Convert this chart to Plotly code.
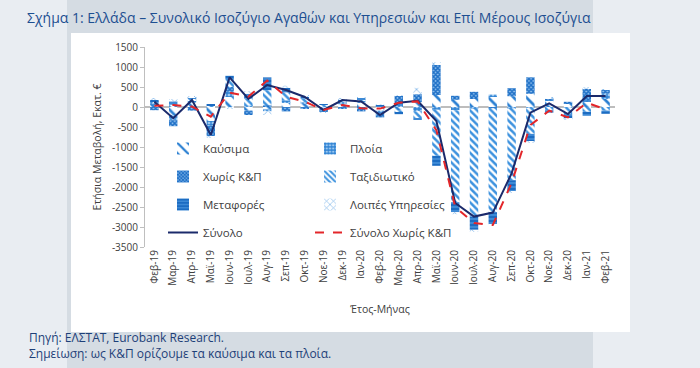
import plotly.graph_objects as go

months = ["Φεβ-19", "Μαρ-19", "Απρ-19", "Μαϊ-19", "Ιουν-19", "Ιουλ-19", "Αυγ-19", "Σεπ-19",
          "Οκτ-19", "Νοε-19", "Δεκ-19", "Ιαν-20", "Φεβ-20", "Μαρ-20", "Απρ-20", "Μαϊ-20",
          "Ιουν-20", "Ιουλ-20", "Αυγ-20", "Σεπ-20", "Οκτ-20", "Νοε-20", "Δεκ-20", "Ιαν-21", "Φεβ-21"]

kausima = [60, -200, 110, -350, 250, -90, -60, 120, 80, -20, 70, 100, -90, -80, 120, 300,
           180, 200, 250, 270, 330, 160, 90, 140, 200]
ploia = [40, -130, 55, -110, 130, 30, -50, 47, 37, 20, 55, 73, -70, 80, -105, -70,
         -80, -40, 60, -30, -22, 24, -7, 27, 133]
xoris_kp = [-80, -150, -90, -280, 120, -110, 40, -110, -40, -110, -40, -110, -100, 200, 200, 750,
            100, 180, -30, 200, 412, 30, 40, 300, 100]
taxidiotiko = [30, 60, 40, 40, 200, 180, 380, 200, 90, 30, 30, 20, 20, -60, -170, -1150,
               -2300, -2700, -2600, -1800, -650, -80, -170, -120, -90]
metafores = [45, 80, 30, 20, 80, 120, 320, 110, 50, 25, 40, 40, 30, -40, -50, -250,
             -250, -330, -300, -280, -200, -60, -120, -100, -80]
loipes = [35, 60, 30, -20, -40, 70, -80, 58, 33, -20, 20, 17, 10, 8, 160, 70,
          -50, -50, -20, -20, -12, 18, -8, 28, 12]

synolo = [130, -280, 175, -700, 740, 200, 550, 425, 250, -75, 175, 140, -200, 108, 155, -350,
          -2400, -2740, -2640, -1660, -142, 92, -175, 275, 275]
synolo_xoris_kp = [30, 50, 10, -240, 360, 260, 660, 258, 133, -75, 50, -33, -40, 108, 140, -580,
                   -2500, -2900, -2950, -1900, -450, -92, -258, 108, -58]

y_ticks = [1500, 1000, 500, 0, -500, -1000, -1500, -2000, -2500, -3000, -3500]
y_tick_text = ["1500", "1000", "500", "0", "-500", "-1000", "-1500", "-2000", "-2500", "-3000", "-3500"]

BLUE = "#2a7fd2"
FONT = "Open Sans"

fig = go.Figure()

def bar(name, vals, legend, group, shape, fg, bg, size, solidity, color=None):
    fig.add_trace(go.Bar(
        x=months, y=vals, name=name, legend=legend, legendgroup=group,
        marker=dict(color=color or fg, line=dict(width=0),
                    pattern=dict(shape=shape, fgcolor=fg, bgcolor=bg, size=size,
                                 solidity=solidity, fillmode="replace")),
    ))

bar("Καύσιμα", kausima, "legend", "a", "\\", BLUE, "white", 9, 0.3)
bar("Πλοία", ploia, "legend2", "b", "+", BLUE, "#9cc8f0", 4, 0.55)
bar("Χωρίς Κ&Π", xoris_kp, "legend", "c", "x", "#1e6fc6", "#8fc0ee", 3, 0.7)
bar("Ταξιδιωτικό", taxidiotiko, "legend2", "d", "\\", "#3d92de", "white", 5, 0.5)
bar("Μεταφορές", metafores, "legend", "e", "-", "#1c6cc2", "#5ea6e8", 4, 0.75)
bar("Λοιπές Υπηρεσίες", loipes, "legend2", "f", "x", "#7fb6ea", "white", 6, 0.25)

fig.add_trace(go.Scatter(x=months, y=synolo, name="Σύνολο", mode="lines", legend="legend",
                         legendgroup="g", line=dict(color="#1b2a6b", width=2)))
fig.add_trace(go.Scatter(x=months, y=synolo_xoris_kp, name="Σύνολο Χωρίς Κ&Π", mode="lines",
                         legend="legend2", legendgroup="h",
                         line=dict(color="#e3262a", width=2, dash="dash")))

# plot area: x 145..615 px, y 47..247 px
L, R, T, B = 145, 85, 47, 121
W, H = 700 - L - R, 368 - T - B
px = lambda v: (v - L) / W
py = lambda v: (368 - B - v) / H

shapes = [
    dict(type="rect", xref="paper", yref="paper", x0=px(67), x1=px(593), y0=py(368), y1=py(0),
         fillcolor="#d5dce3", line=dict(width=0), layer="below"),
    dict(type="rect", xref="paper", yref="paper", x0=px(71), x1=px(630), y0=py(332), y1=py(33),
         fillcolor="white", line=dict(width=0), layer="below"),
]

leg_common = dict(bgcolor="rgba(0,0,0,0)", borderwidth=0, tracegroupgap=9,
                  font=dict(family=FONT, size=11.5, color="#404040"),
                  xanchor="left", yanchor="top", itemwidth=30)

fig.update_layout(
    width=700, height=368,
    margin=dict(l=L, r=R, t=T, b=B),
    paper_bgcolor="#e9edf2", plot_bgcolor="rgba(0,0,0,0)",
    barmode="relative", bargap=0.55,
    shapes=shapes,
    font=dict(family=FONT, color="#404040"),
    title=dict(text="Σχήμα 1: Ελλάδα – Συνολικό Ισοζύγιο Αγαθών και Υπηρεσιών και Επί Μέρους Ισοζύγια",
               x=27 / 700, xanchor="left", y=1 - 18 / 368, yanchor="middle",
               font=dict(family=FONT, size=14, color="#1d4f91")),
    legend=dict(x=px(163), y=py(134), **leg_common),
    legend2=dict(x=px(310), y=py(134), **leg_common),
    xaxis=dict(type="category", tickangle=-90, showline=False, ticks="",
               tickfont=dict(family=FONT, size=10, color="#404040"),
               title=dict(text="Έτος-Μήνας", font=dict(family=FONT, size=10.5, color="#404040"), standoff=20),
               range=[-0.5, 24.5]),
    yaxis=dict(range=[-3500, 1500], tickvals=y_ticks, ticktext=y_tick_text,
               showgrid=False, showline=True, linecolor="#bfbfbf", linewidth=1,
               ticks="outside", ticklen=4, tickcolor="#bfbfbf",
               zeroline=True, zerolinecolor="#bdbdbd", zerolinewidth=1.5,
               tickfont=dict(family=FONT, size=10, color="#404040"),
               title=dict(text="Ετήσια Μεταβολή, Εκατ. €", font=dict(family=FONT, size=10.5, color="#404040"),
                          standoff=8)),
    annotations=[
        dict(text="Πηγή: ΕΛΣΤΑΤ, Eurobank Research.", xref="paper", yref="paper",
             x=px(27), y=py(337), xanchor="left", yanchor="middle", showarrow=False,
             font=dict(family=FONT, size=12, color="#1d3f78")),
        dict(text="Σημείωση: ως Κ&Π ορίζουμε τα καύσιμα και τα πλοία.", xref="paper", yref="paper",
             x=px(27), y=py(353), xanchor="left", yanchor="middle", showarrow=False,
             font=dict(family=FONT, size=12, color="#1d3f78")),
    ],
    showlegend=True,
)

fig.write_html("out.html", config={"displayModeBar": False},
               post_script="document.body.style.margin='0';")
